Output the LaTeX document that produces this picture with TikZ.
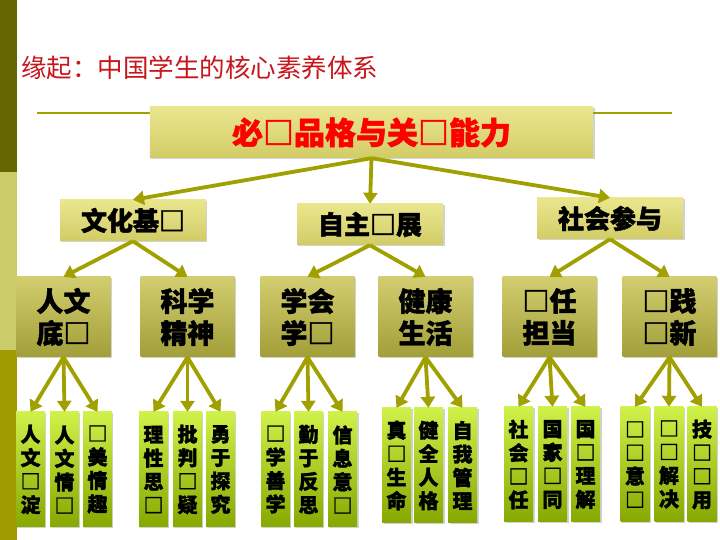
\documentclass[tikz,border=0pt]{standalone}
\usepackage{fontspec}
\setmainfont{Noto Sans CJK SC}[BoldFeatures={FakeBold=1.6}]
\usepackage{xcolor}
\definecolor{bardark}{HTML}{666600}
\definecolor{barlight}{HTML}{CCCB6A}
\definecolor{barolive}{HTML}{9E9A00}
\definecolor{linkcol}{HTML}{A0A000}
\definecolor{titlered}{HTML}{C8161D}
\definecolor{headtop}{HTML}{EAE68E}
\definecolor{headbot}{HTML}{D2CC66}
\definecolor{midtop}{HTML}{D2CE70}
\definecolor{midbot}{HTML}{A29E38}
\definecolor{leaftop}{HTML}{D0F04A}
\definecolor{leafbot}{HTML}{86A800}
\usetikzlibrary{arrows.meta,shadows}

\begin{document}
\begin{tikzpicture}[x=1bp,y=1bp,>={Triangle[length=11bp,width=14bp]},
  headbox/.style={rectangle,top color=headtop,bottom color=headbot,draw=none,drop shadow={opacity=0.35,shadow xshift=1.5pt,shadow yshift=-1.5pt},minimum height=41bp,minimum width=146bp,inner sep=0pt,font=\fontsize{26bp}{30bp}\selectfont\bfseries},
  midbox/.style={rectangle,top color=midtop,bottom color=midbot,draw=none,drop shadow={opacity=0.35,shadow xshift=1.5pt,shadow yshift=-1.5pt},minimum height=80bp,minimum width=94bp,inner sep=0pt,align=center,font=\fontsize{27bp}{32bp}\selectfont\bfseries},
  leafbox/.style={rectangle,top color=leaftop,bottom color=leafbot,draw=none,drop shadow={opacity=0.35,shadow xshift=1.5pt,shadow yshift=-1.5pt},minimum height=115bp,minimum width=29bp,inner sep=0pt,align=center,font=\fontsize{20bp}{23.5bp}\selectfont\bfseries},
  link/.style={->,linkcol,line width=3.8bp}]
\useasboundingbox (0,0) rectangle (720,540);
\fill[white] (0,0) rectangle (720,540);
% left band
\fill[bardark] (0,368) rectangle (17,540);
\fill[barlight] (0,190) rectangle (17,368);
\fill[barolive] (0,0) rectangle (17,190);
% title
\node[anchor=west,inner sep=0pt,text=titlered,font=\fontsize{25.5bp}{30bp}\selectfont] (title) at (21,472) {缘起：中国学生的核心素养体系};
\coordinate (rl) at (37,427);
\coordinate (rr) at (672,427);
\draw[linkcol,line width=2.2bp] (rl) -- (rr);
% top box
\node[headbox,minimum width=443bp,minimum height=51bp,text=red,font=\fontsize{31bp}{34bp}\selectfont\bfseries] (top) at (371.5,407.5) {必□品格与关□能力};
% second row
\node[headbox] (wh) at (133,319.5) {文化基□};
\node[headbox] (zz) at (370,315.5) {自主□展};
\node[headbox] (sh) at (610,321.5) {社会参与};
% third row
\node[midbox] (rw) at (63.5,223) {人文\\底□};
\node[midbox] (kx) at (187.5,223) {科学\\精神};
\node[midbox] (xh) at (307.5,223) {学会\\学□};
\node[midbox] (jk) at (425.5,223) {健康\\生活};
\node[midbox] (zr) at (549.5,223) {□任\\担当};
\node[midbox] (sj) at (669.5,223) {□践\\□新};
% bottom row
\node[leafbox] (rw1) at (30.5,70.5) {人\\文\\□\\淀};
\node[leafbox] (rw2) at (64.5,70.5) {人\\文\\情\\□};
\node[leafbox] (rw3) at (97.5,70.5) {□\\美\\情\\趣};
\node[leafbox] (kx1) at (153.5,70.5) {理\\性\\思\\□};
\node[leafbox] (kx2) at (187.5,70.5) {批\\判\\□\\疑};
\node[leafbox] (kx3) at (220.5,70.5) {勇\\于\\探\\究};
\node[leafbox] (xh1) at (275.5,70.5) {□\\学\\善\\学};
\node[leafbox] (xh2) at (308.5,70.5) {勤\\于\\反\\思};
\node[leafbox] (xh3) at (342.5,70.5) {信\\息\\意\\□};
\node[leafbox] (jk1) at (396.5,74.5) {真\\□\\生\\命};
\node[leafbox] (jk2) at (428.5,74.5) {健\\全\\人\\格};
\node[leafbox] (jk3) at (462.5,74.5) {自\\我\\管\\理};
\node[leafbox] (zr1) at (518.5,75.5) {社\\会\\□\\任};
\node[leafbox] (zr2) at (552.5,75.5) {国\\家\\□\\同};
\node[leafbox] (zr3) at (585.5,75.5) {国\\□\\理\\解};
\node[leafbox] (sj1) at (635,75.5) {□\\□\\意\\□};
\node[leafbox] (sj2) at (669,75.5) {□\\□\\解\\决};
\node[leafbox] (sj3) at (702,75.5) {技\\□\\□\\用};
% links
\draw[link] (top.south) -- (wh.north);
\draw[link] (top.south) -- (zz.north);
\draw[link] (top.south) -- (sh.north);
\draw[link] (wh.south) -- (rw.north);
\draw[link] (wh.south) -- (kx.north);
\draw[link] (zz.south) -- (xh.north);
\draw[link] (zz.south) -- (jk.north);
\draw[link] (sh.south) -- (zr.north);
\draw[link] (sh.south) -- (sj.north);
\draw[link] (rw.south) -- (rw1.north);
\draw[link] (rw.south) -- (rw2.north);
\draw[link] (rw.south) -- (rw3.north);
\draw[link] (kx.south) -- (kx1.north);
\draw[link] (kx.south) -- (kx2.north);
\draw[link] (kx.south) -- (kx3.north);
\draw[link] (xh.south) -- (xh1.north);
\draw[link] (xh.south) -- (xh2.north);
\draw[link] (xh.south) -- (xh3.north);
\draw[link] (jk.south) -- (jk1.north);
\draw[link] (jk.south) -- (jk2.north);
\draw[link] (jk.south) -- (jk3.north);
\draw[link] (zr.south) -- (zr1.north);
\draw[link] (zr.south) -- (zr2.north);
\draw[link] (zr.south) -- (zr3.north);
\draw[link] (sj.south) -- (sj1.north);
\draw[link] (sj.south) -- (sj2.north);
\draw[link] (sj.south) -- (sj3.north);
\end{tikzpicture}
\end{document}
